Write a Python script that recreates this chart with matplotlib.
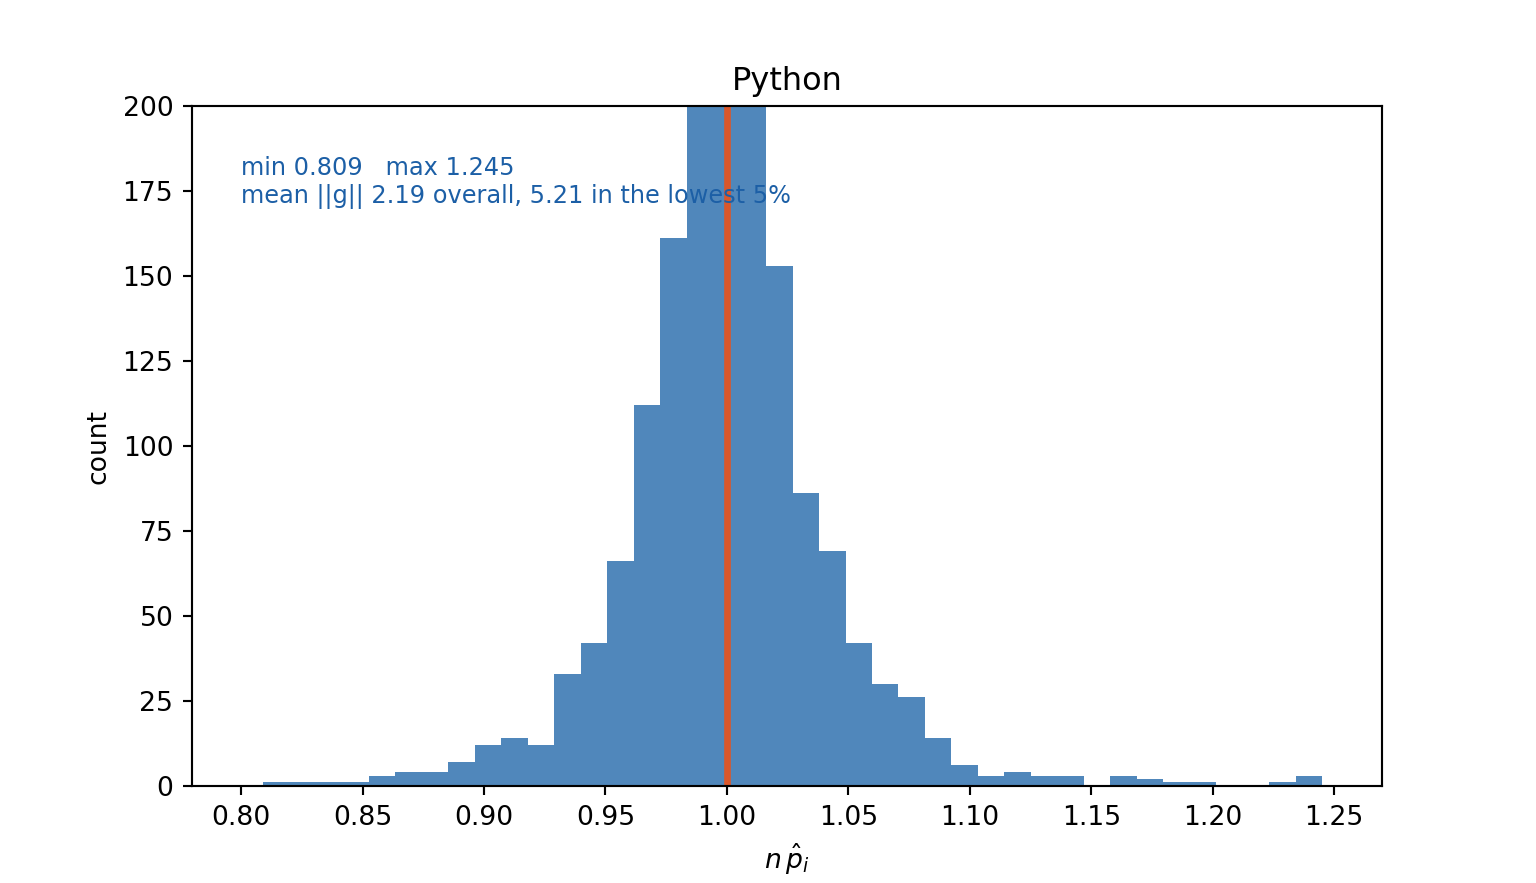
import numpy as np
import matplotlib
matplotlib.use("Agg")
from matplotlib import pyplot as plt

# histogram of n * p_hat, 40 bins between min and max
vmin = 0.809
vmax = 1.245
counts = [1, 1, 1, 1, 3, 4, 4, 7, 12, 14,
          12, 33, 42, 66, 112, 161, 212, 238, 226, 153,
          86, 69, 42, 30, 26, 14, 6, 3, 4, 3,
          3, 0, 3, 2, 1, 1, 0, 0, 1, 3]
mean_g = 2.19
mean_g_low = 5.21

edges = np.linspace(vmin, vmax, len(counts) + 1)
centers = 0.5 * (edges[:-1] + edges[1:])

fig = plt.figure(figsize=(8, 4.6), dpi=192)
ax = plt.axes()

ax.hist(centers, bins=edges, weights=counts, color='#5087bb')
ax.axvline(1.0, color='#d9572b', lw=2.5)

ax.set_xlim(0.7798, 1.2698)
ax.set_ylim(0, 200)
ax.set_xticks([0.80, 0.85, 0.90, 0.95, 1.00, 1.05, 1.10, 1.15, 1.20, 1.25])
ax.set_xlabel(r'$n\,\hat{p}_i$')
ax.set_ylabel('count')
ax.set_title('Python')

ax.text(0.80, 171.5,
        'min %.3f   max %.3f\nmean ||g|| %.2f overall, %.2f in the lowest 5%%'
        % (vmin, vmax, mean_g, mean_g_low),
        color='#1c5fa6', fontsize=9)

plt.savefig('out.png')
